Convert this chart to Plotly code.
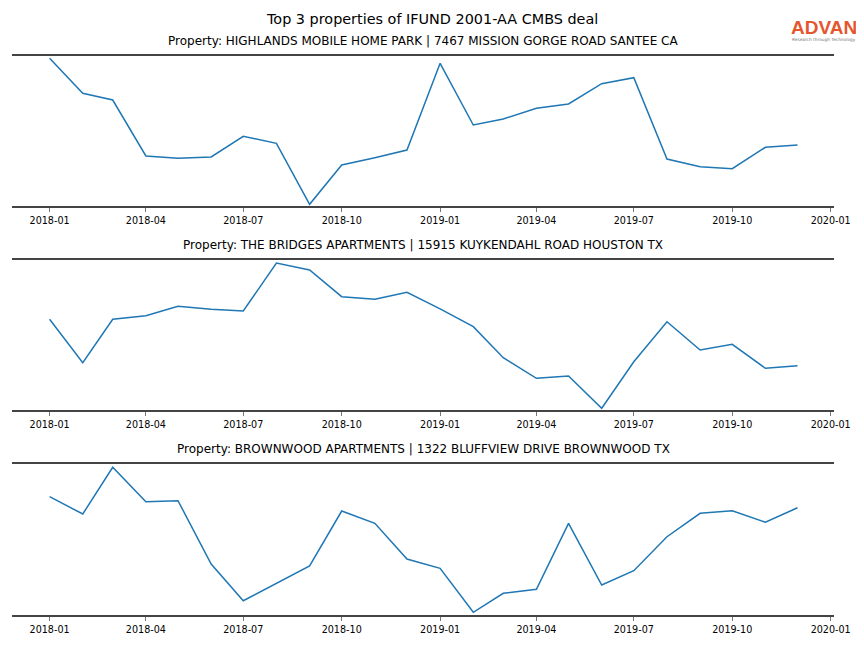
import plotly.graph_objects as go

months = [f"{y}-{m:02d}-01" for y in (2018, 2019) for m in range(1, 13)]

titles = [
    "Property: HIGHLANDS MOBILE HOME PARK | 7467 MISSION GORGE ROAD SANTEE CA",
    "Property: THE BRIDGES APARTMENTS | 15915 KUYKENDAHL ROAD HOUSTON TX",
    "Property: BROWNWOOD APARTMENTS | 1322 BLUFFVIEW DRIVE BROWNWOOD TX",
]

# relative visit levels (no y scale shown)
highlands = [147.7, 112.7, 106.0, 50.0, 47.7, 49.0, 69.7, 62.7, 1.7, 41.0, 48.3, 56.0,
             142.7, 81.0, 87.0, 97.7, 102.0, 122.3, 128.3, 47.0, 39.3, 37.3, 58.7, 61.0]
bridges = [90.7, 47.3, 90.7, 94.3, 103.7, 100.7, 99.0, 147.0, 140.0, 113.3, 110.7, 117.7,
           101.1, 83.3, 52.3, 31.7, 34.0, 1.7, 48.3, 88.3, 60.0, 65.7, 41.7, 44.3]
brownwood = [118.3, 101.0, 147.7, 113.3, 114.3, 51.0, 14.3, 32.0, 49.0, 104.0, 91.7, 56.0,
             46.7, 2.7, 21.7, 25.7, 91.7, 30.0, 44.3, 78.3, 101.7, 104.3, 92.7, 107.3]
series = [highlands, bridges, brownwood]

tick_vals = ["2018-01-01", "2018-04-01", "2018-07-01", "2018-10-01", "2019-01-01",
             "2019-04-01", "2019-07-01", "2019-10-01", "2020-01-01"]
tick_text = ["2018-01", "2018-04", "2018-07", "2018-10", "2019-01",
             "2019-04", "2019-07", "2019-10", "2020-01"]

# page keeps the default 8px body margin; the captured page width is 880
OFF = 8
SX = 880 / 864
W, H = 864, 648 - 2 * OFF


def px(X):
    return (X * SX - OFF) / W


def py(Y):
    return 1 - (Y - OFF) / H


x0, x1 = 12, 835
panels_px = [(56, 206), (260, 410), (464, 615)]
yranges = [(0, 150), (0, 150), (0, 151)]

fig = go.Figure()
layout = dict(
    width=W, height=H, autosize=False,
    margin=dict(l=0, r=0, t=0, b=0),
    paper_bgcolor="white", plot_bgcolor="white",
    showlegend=False,
    font=dict(family="DejaVu Sans", color="black"),
)
annotations = []
for i, (vals, (pt, pb)) in enumerate(zip(series, panels_px)):
    n = "" if i == 0 else str(i + 1)
    fig.add_trace(go.Scatter(x=months, y=vals, mode="lines",
                             line=dict(color="#1f77b4", width=1.5),
                             xaxis="x" + n, yaxis="y" + n))
    layout["xaxis" + n] = dict(
        domain=[px(x0), px(x1)], anchor="y" + n, type="date",
        range=["2017-11-27", "2020-01-04"],
        tickvals=tick_vals, ticktext=tick_text,
        ticks="outside", ticklen=4, tickwidth=1, tickcolor="#777777",
        tickfont=dict(size=9.6, family="DejaVu Sans", color="black"),
        showline=True, mirror=True, linecolor="#444444", linewidth=2,
        showgrid=False, zeroline=False,
    )
    layout["yaxis" + n] = dict(
        domain=[py(pb), py(pt)], anchor="x" + n,
        range=list(yranges[i]), visible=False, showgrid=False, zeroline=False,
    )
    annotations.append(dict(
        text=titles[i], xref="paper", yref="paper",
        x=px((x0 + x1) / 2), y=py(pt - 6),
        xanchor="center", yanchor="bottom", showarrow=False,
        font=dict(size=12, family="DejaVu Sans", color="black"),
    ))

annotations.append(dict(
    text="Top 3 properties of IFUND 2001-AA CMBS deal", xref="paper", yref="paper",
    x=px(432), y=py(19.5), xanchor="center", yanchor="middle", showarrow=False,
    font=dict(size=14.4, family="DejaVu Sans", color="black"),
))
annotations.append(dict(
    text="ADVAN", xref="paper", yref="paper",
    x=px(825), y=py(27.5), xanchor="center", yanchor="middle", showarrow=False,
    font=dict(size=19, family="Liberation Sans", color="#E4572E", weight=600),
))
annotations.append(dict(
    text="Research through Technology", xref="paper", yref="paper",
    x=px(825), y=py(39.5), xanchor="center", yanchor="middle", showarrow=False,
    font=dict(size=4.3, family="DejaVu Sans", color="#777777"),
))
layout["annotations"] = annotations
fig.update_layout(**layout)
fig.write_html("out.html", config={"displayModeBar": False})
